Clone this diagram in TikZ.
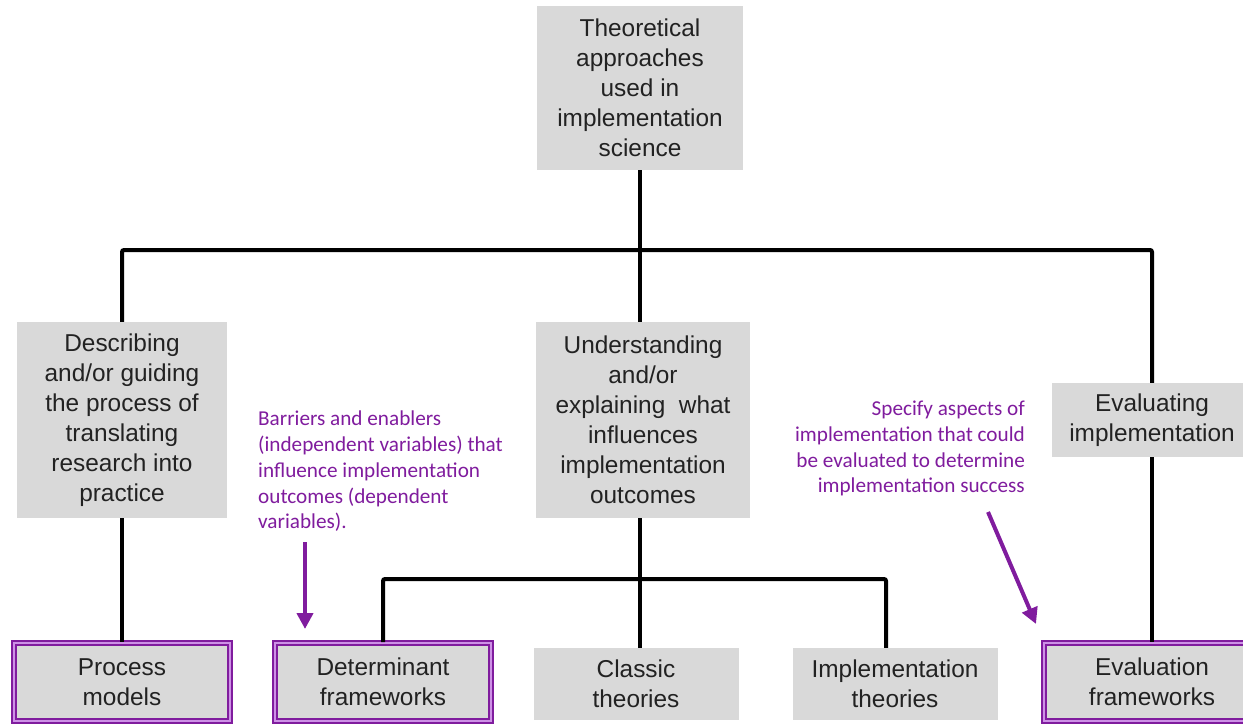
\documentclass[tikz,border=0pt]{standalone}
\usepackage{fontspec}
\setmainfont{Liberation Sans}
\newfontfamily\calib{Carlito}
\usetikzlibrary{arrows.meta}
\definecolor{boxgray}{HTML}{D9D9D9}
\definecolor{purp}{RGB}{128,28,158}
\definecolor{lpurp}{RGB}{205,145,230}
\definecolor{txt}{HTML}{222222}
\begin{document}
\begin{tikzpicture}[x=1pt,y=-1pt,
  box/.style={fill=boxgray, inner sep=0pt, align=center, text=txt,
    font=\fontsize{24.4}{30}\selectfont},
  pbox/.style={box, draw=purp, line width=2pt, double=lpurp, double distance=2pt},
  conn/.style={line width=4pt, black, rounded corners=2pt},
  note/.style={inner sep=0pt, text=purp, font=\calib\fontsize{21.2}{25.7}\selectfont},
  arr/.style={purp, line width=4pt, -{Triangle[width=16pt,length=16pt]}}]
\fill[white] (0,0) rectangle (1243,725);
\useasboundingbox (0,0) rectangle (1243,725);

\node[box, minimum width=206pt, minimum height=164pt] (top) at (640,88)
  {Theoretical\\approaches\\used in\\implementation\\science};
\node[box, minimum width=210pt, minimum height=196pt] (desc) at (122,420)
  {Describing\\and/or guiding\\the process of\\translating\\research into\\practice};
\node[box, minimum width=214pt, minimum height=196pt] (und) at (643,420)
  {Understanding\\and/or\\explaining\ \ what\\influences\\implementation\\outcomes};
\node[box, minimum width=200pt, minimum height=74pt] (eval) at (1152,420)
  {Evaluating\\implementation};

\node[pbox, minimum width=216pt, minimum height=78pt] (proc) at (122,682)
  {Process\\models};
\node[pbox, minimum width=216pt, minimum height=78pt] (det) at (383,682)
  {Determinant\\frameworks};
\node[box, minimum width=205pt, minimum height=72pt] (cls) at (636,684)
  {Classic\\theories};
\node[box, minimum width=205pt, minimum height=72pt] (imp) at (895,684)
  {Implementation\\theories};
\node[pbox, minimum width=216pt, minimum height=78pt] (evf) at (1152,682)
  {Evaluation\\frameworks};

\coordinate (j1) at (640,250);
\coordinate (j2) at (640,579);
\coordinate (ji) at (886,579);
\draw[conn] (top.south) -- (j1);
\draw[conn] (desc.north) -- (desc.north |- j1) -- (eval.north |- j1) -- (eval.north);
\draw[conn] (j1) -- (j1 |- und.north);
\draw[conn] (desc.south) -- (proc.north);
\draw[conn] (eval.south) -- (evf.north);
\draw[conn] (j1 |- und.south) -- (j2) -- (j2 |- cls.north);
\draw[conn] (det.north) -- (det.north |- j2) -- (ji) -- (ji |- imp.north);

\node[note, align=left, anchor=north west] (n1) at (258,411)
  {Barriers and enablers\\(independent variables) that\\influence implementation\\outcomes (dependent\\variables).};
\node[note, align=right, anchor=north east] (n2) at (1025,401)
  {Specify aspects of\\implementation that could\\be evaluated to determine\\implementation success};

\coordinate (a1s) at (305,542);
\coordinate (a1e) at (305,629);
\coordinate (a2s) at (988,512);
\coordinate (a2e) at (1036,624);
\draw[arr] (a1s) -- (a1e);
\draw[arr] (a2s) -- (a2e);
\end{tikzpicture}
\end{document}
